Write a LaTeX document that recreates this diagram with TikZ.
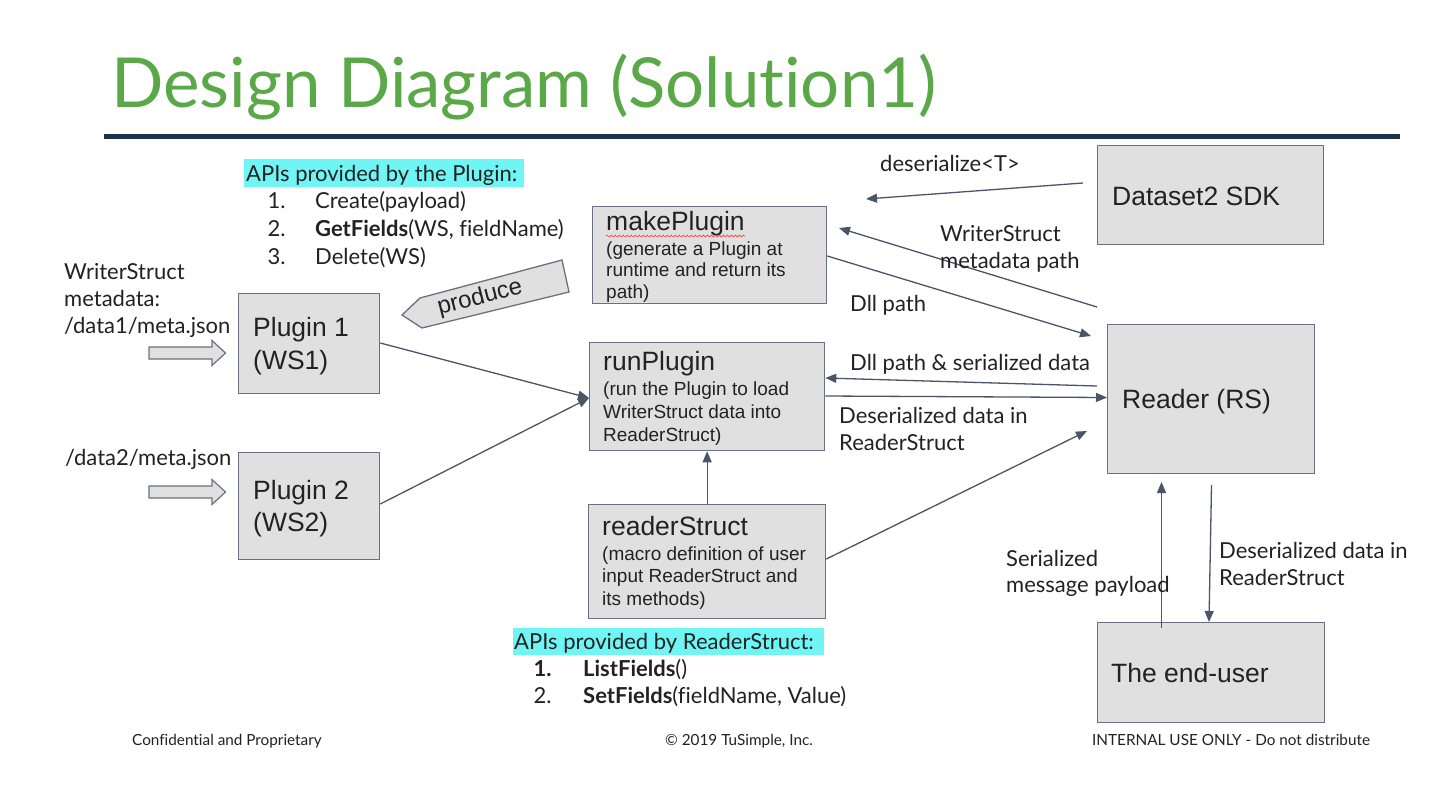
\documentclass[tikz,border=0pt]{standalone}
\usepackage{fontspec}
\setmainfont{Lato}[Ligatures=NoCommon]
\newfontfamily\arialf{Liberation Sans}
\usetikzlibrary{arrows.meta,decorations.pathmorphing}
\definecolor{boxfill}{RGB}{224,224,224}
\definecolor{boxline}{RGB}{104,114,130}
\definecolor{arrowc}{RGB}{74,85,104}
\definecolor{titlegreen}{RGB}{90,168,72}
\definecolor{rulec}{RGB}{28,51,80}
\definecolor{hilite}{RGB}{112,245,245}
\definecolor{textc}{RGB}{34,34,34}
\begin{document}
\begin{tikzpicture}[x=1pt,y=-1pt,
  box/.style={draw=boxline, fill=boxfill, line width=1.3pt, inner sep=0pt, anchor=north west},
  conn/.style={draw=arrowc, line width=1.3pt, -{Triangle[length=11pt,width=9pt]}},
  lbl/.style={anchor=base west, inner sep=0pt, font=\fontsize{22}{26}\selectfont, text=textc},
  btitle/.style={anchor=base west, inner sep=0pt, font=\arialf\fontsize{26.5}{30}\selectfont, text=textc},
  bsub/.style={anchor=base west, inner sep=0pt, font=\arialf\fontsize{19}{22}\selectfont, text=textc},
  foot/.style={anchor=base west, inner sep=0pt, font=\fontsize{15.3}{18}\selectfont, text=textc},
  hollow/.style={draw=boxline, fill=boxfill, line width=1.2pt, line join=miter}]
\useasboundingbox[fill=white] (0,0) rectangle (1448,806);

% title and rule
\node[anchor=base west, inner sep=0pt, font=\fontsize{69}{78}\selectfont, text=titlegreen] (title) at (111,107) {Design Diagram (Solution1)};
\coordinate (ruleL) at (104,136);
\coordinate (ruleR) at (1400,136);
\draw[rulec, line width=5pt] (ruleL) -- (ruleR);

% boxes
\node[box, minimum width=141pt, minimum height=100pt] (p1) at (238,293) {};
\node[box, minimum width=141pt, minimum height=107pt] (p2) at (238,452) {};
\node[box, minimum width=234pt, minimum height=97pt] (mp) at (592,206) {};
\node[box, minimum width=235pt, minimum height=108pt] (rp) at (589,342) {};
\node[box, minimum width=237pt, minimum height=114pt] (rs) at (588,504) {};
\node[box, minimum width=226pt, minimum height=99pt] (ds) at (1097,145) {};
\node[box, minimum width=207pt, minimum height=149pt] (rd) at (1107,324) {};
\node[box, minimum width=227pt, minimum height=100pt] (eu) at (1097,622) {};

% box texts
\node[btitle] (p1a) at (253,336) {Plugin 1};
\node[btitle] (p1b) at (253,369) {(WS1)};
\node[btitle] (p2a) at (253,499) {Plugin 2};
\node[btitle] (p2b) at (253,531) {(WS2)};
\node[btitle] (mpa) at (606,230) {makePlugin};
\node[bsub] (mpb) at (606,255) {(generate a Plugin at};
\node[bsub] (mpc) at (606,276.5) {runtime and return its};
\node[bsub] (mpd) at (606,298.5) {path)};
\node[btitle] (rpa) at (603,370) {runPlugin};
\node[bsub] (rpb) at (603,395) {(run the Plugin to load};
\node[bsub] (rpc) at (603,418) {WriterStruct data into};
\node[bsub] (rpd) at (603,441) {ReaderStruct)};
\node[btitle] (rsa) at (602,535) {readerStruct};
\node[bsub] (rsb) at (602,560) {(macro definition of user};
\node[bsub] (rsc) at (602,582.5) {input ReaderStruct and};
\node[bsub] (rsd) at (602,605) {its methods)};
\node[btitle] (dst) at (1112,205) {Dataset2 SDK};
\node[btitle] (rdt) at (1122,408) {Reader (RS)};
\node[btitle] (eut) at (1111,682) {The end-user};

% spell-check squiggle under makePlugin
\coordinate (sqA) at (606,236);
\coordinate (sqB) at (745,236);
\draw[red!75, line width=0.7pt, decorate, decoration={snake, amplitude=1pt, segment length=4pt}] (sqA) -- (sqB);

% connectors
\coordinate (dsA) at (1083,183);
\coordinate (dsB) at (866,199);
\draw[conn] (dsA) -- (dsB);
\coordinate (wsA) at (1097,307);
\coordinate (wsB) at (839,228);
\draw[conn] (wsA) -- (wsB);
\coordinate (dlB) at (1091,336);
\draw[conn] (mp.east |- 0,256) -- (dlB);
\coordinate (rdA) at (1097,386);
\draw[conn] (rdA) -- (rp.east |- 0,378);
\draw[conn] (rp.east |- 0,396) -- (rd.west |- 0,397.5);
\coordinate (rsB) at (1087,431);
\draw[conn] (rs.east |- 0,559) -- (rsB);
\draw[conn] (rs.north) -- (rp.south);
\draw[conn] (p1.east |- 0,343) -- (rp.west |- 0,398);
\draw[conn] (p2.east |- 0,504) -- (rp.west |- 0,398);
\coordinate (euA) at (1161.5,628);
\coordinate (euB) at (1161.5,482);
\draw[conn] (euA) -- (euB);
\coordinate (rdC) at (1211.5,485);
\draw[conn] (rdC) -- (eu.north -| 1209,0);

% connector labels
\node[lbl] (l1) at (880,171.5) {deserialize<T>};
\node[lbl] (l2a) at (940,241.5) {WriterStruct};
\node[lbl] (l2b) at (940,268.5) {metadata path};
\node[lbl] (l3) at (850,311.5) {Dll path};
\node[lbl] (l4) at (850,370) {Dll path \& serialized data};
\node[lbl] (l5a) at (839,423.5) {Deserialized data in};
\node[lbl] (l5b) at (839,450) {ReaderStruct};
\node[lbl] (l6a) at (1006,566.5) {Serialized};
\node[lbl] (l6b) at (1006,592.5) {message payload};
\node[lbl] (l7a) at (1219,558.5) {Deserialized data in};
\node[lbl] (l7b) at (1219,585) {ReaderStruct};

% left inputs
\node[lbl] (w1) at (64,279.5) {WriterStruct};
\node[lbl] (w2) at (64,306.5) {metadata:};
\node[lbl] (w3) at (64,333.5) {/data1/meta.json};
\node[lbl] (w4) at (65,465) {/data2/meta.json};
\draw[hollow] (149,347) -- (212,347) -- (212,340.5) -- (225.5,353) -- (212,365.5) -- (212,359) -- (149,359) -- cycle;
\draw[hollow] (149,486) -- (212,486) -- (212,479.5) -- (225.5,492) -- (212,504.5) -- (212,498) -- (149,498) -- cycle;

% produce tag
\draw[hollow, line width=1.3pt] (402,315) -- (420,298) -- (562,260) -- (569,292) -- (422,328) -- cycle;
\node[inner sep=0pt, rotate=14.5, font=\arialf\fontsize{24}{28}\selectfont, text=textc] (prod) at (480,298) {produce};

% API lists
\fill[hilite] (244,158.5) rectangle (524,186.5);
\node[lbl] (ap0) at (246,181) {APIs provided by the Plugin:};
\node[lbl] (ap1n) at (267.5,208) {1.};
\node[lbl] (ap1) at (315,208) {Create(payload)};
\node[lbl] (ap2n) at (267.5,236.5) {2.};
\node[lbl] (ap2) at (315,236.5) {\textbf{GetFields}(WS, fieldName)};
\node[lbl] (ap3n) at (267.5,264) {3.};
\node[lbl] (ap3) at (315,264) {Delete(WS)};

\fill[hilite] (512.5,627.5) rectangle (824,655);
\node[lbl] (rq0) at (514,649) {APIs provided by ReaderStruct:};
\node[lbl] (rq1n) at (533.5,676.5) {\textbf{1.}};
\node[lbl] (rq1) at (583,676.5) {\textbf{ListFields}()};
\node[lbl] (rq2n) at (533.5,703.5) {2.};
\node[lbl] (rq2) at (583,703.5) {\textbf{SetFields}(fieldName, Value)};

% footer
\node[foot] (f1) at (132,745) {Confidential and Proprietary};
\node[foot] (f2) at (665,745) {© 2019 TuSimple, Inc.};
\node[foot] (f3) at (1092,745) {INTERNAL USE ONLY - Do not distribute};
\end{tikzpicture}
\end{document}
